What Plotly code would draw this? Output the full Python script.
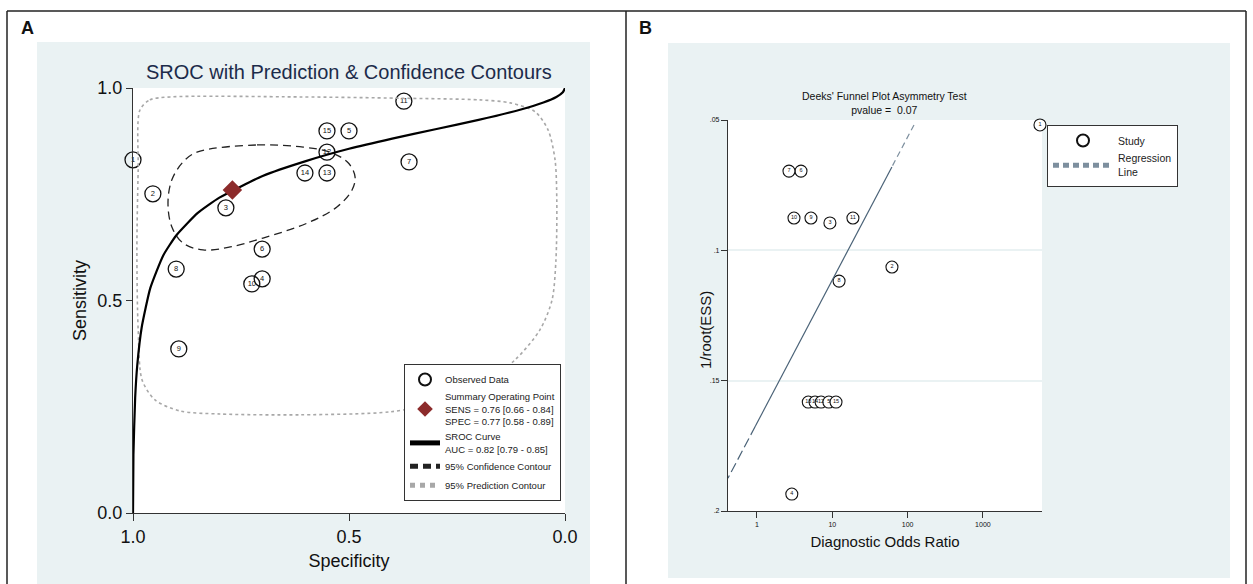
import numpy as np
import plotly.graph_objects as go

W, H = 1253, 584
FONT = "Liberation Sans, Arial, Helvetica, sans-serif"

# ---------------- Panel A data (SROC) ----------------
study_ids = list(range(1, 16))
spec_obs = [1.00, 0.954, 0.785, 0.701, 0.500, 0.701, 0.361, 0.900, 0.894, 0.725, 0.373, 0.551, 0.551, 0.602, 0.551]
sens_obs = [0.831, 0.751, 0.718, 0.551, 0.899, 0.621, 0.826, 0.574, 0.386, 0.539, 0.969, 0.849, 0.800, 0.800, 0.899]
summary_spec = [0.77]
summary_sens = [0.76]

sroc_spec = [1.0, 0.999, 0.995, 0.99, 0.98, 0.96, 0.93, 0.90, 0.85, 0.80, 0.70, 0.60,
             0.50, 0.40, 0.30, 0.20, 0.10, 0.05, 0.02, 0.005, 0.0]
sroc_sens = [0.0, 0.137, 0.271, 0.349, 0.436, 0.529, 0.606, 0.653, 0.706, 0.742, 0.793, 0.828,
             0.857, 0.881, 0.903, 0.925, 0.950, 0.966, 0.979, 0.990, 1.0]

conf_spec = [0.852, 0.713, 0.606, 0.544, 0.502, 0.486, 0.493, 0.528, 0.597, 0.699, 0.775,
             0.838, 0.884, 0.910, 0.919, 0.910, 0.884, 0.852]
conf_sens = [0.849, 0.866, 0.861, 0.849, 0.824, 0.791, 0.760, 0.720, 0.682, 0.647, 0.626,
             0.619, 0.635, 0.673, 0.729, 0.784, 0.826, 0.849]

pred_spec = [0.984, 0.961, 0.914, 0.613, 0.382, 0.197, 0.127, 0.069, 0.039, 0.023, 0.019, 0.021,
             0.030, 0.058, 0.116, 0.197, 0.289, 0.405, 0.613, 0.799, 0.891, 0.949, 0.979, 0.988,
             0.991, 0.988, 0.984]
pred_sens = [0.948, 0.972, 0.979, 0.979, 0.976, 0.972, 0.965, 0.944, 0.901, 0.831, 0.736, 0.595,
             0.501, 0.431, 0.360, 0.301, 0.261, 0.238, 0.231, 0.233, 0.240, 0.266, 0.313, 0.431,
             0.619, 0.807, 0.948]

# ---------------- Panel B data (Deeks) ----------------
deeks_ids = [1, 2, 3, 4, 6, 7, 8, 9, 10, 11, 13, 14, 12, 5, 15]
deeks_dor = [5730, 62, 9.3, 2.9, 3.84, 2.66, 12.3, 5.21, 3.10, 18.8, 4.8, 5.9, 7.1, 9.0, 11.2]
deeks_inv_ess = [0.0519, 0.1064, 0.0895, 0.1935, 0.0696, 0.0696, 0.1118, 0.0876, 0.0876, 0.0876,
                 0.1582, 0.1582, 0.1582, 0.1582, 0.1582]
reg_intercept = 3.031   # log10(DOR) at 1/root(ESS) = 0
reg_slope = -18.23
reg_y_top = [0.0519, 0.068]
reg_y_mid = [0.068, 0.1674]
reg_y_low = [0.1674, 0.1874]


def px(x):
    return x / W


def py(y):
    return 1 - y / H


def reg_x(ys):
    return [10 ** (reg_intercept + reg_slope * v) for v in ys]


fig = go.Figure()

# ---- Panel A traces ----
fig.add_trace(go.Scatter(
    x=spec_obs, y=sens_obs, mode="markers+text", text=[str(i) for i in study_ids],
    textposition="middle center", textfont=dict(size=7.5, color="#111", family=FONT),
    marker=dict(symbol="circle-open", size=16, color="#111", line=dict(width=1.3, color="#111")),
    name="Observed Data", xaxis="x", yaxis="y", cliponaxis=False, legend="legend", legendrank=1))
fig.add_trace(go.Scatter(
    x=pred_spec, y=pred_sens, mode="lines", line=dict(color="#a8a8a8", width=1.6, dash="dot", shape="spline", smoothing=0.8),
    name="95% Prediction Contour", xaxis="x", yaxis="y", cliponaxis=False, legend="legend", legendrank=5))
fig.add_trace(go.Scatter(
    x=conf_spec, y=conf_sens, mode="lines", line=dict(color="#222", width=1.3, dash="8px,5px", shape="spline", smoothing=1.0),
    name="95% Confidence Contour", xaxis="x", yaxis="y", legend="legend", legendrank=4))
fig.add_trace(go.Scatter(
    x=sroc_spec, y=sroc_sens, mode="lines", line=dict(color="#000", width=2.2, shape="spline", smoothing=0.5),
    name="SROC Curve<br>AUC = 0.82 [0.79 - 0.85]", xaxis="x", yaxis="y", cliponaxis=False,
    legend="legend", legendrank=3))
fig.add_trace(go.Scatter(
    x=summary_spec, y=summary_sens, mode="markers",
    marker=dict(symbol="diamond", size=15, color="#8c2b2b"),
    name="Summary Operating Point<br>SENS = 0.76 [0.66 - 0.84]<br>SPEC = 0.77 [0.58 - 0.89]",
    xaxis="x", yaxis="y", legend="legend", legendrank=2))

# ---- Panel B traces ----
fig.add_trace(go.Scatter(
    x=deeks_dor, y=deeks_inv_ess, mode="markers+text", text=[str(i) for i in deeks_ids],
    textposition="middle center", textfont=dict(size=5.5, color="#111", family=FONT),
    marker=dict(symbol="circle", size=12, color="white", line=dict(width=1.1, color="#111")),
    name="Study", xaxis="x2", yaxis="y2", cliponaxis=False, legend="legend2", legendrank=1))
fig.add_trace(go.Scatter(
    x=reg_x(reg_y_top), y=reg_y_top, mode="lines", line=dict(color="#7d8f9e", width=1.2, dash="6px,4px"),
    name="Regression<br>Line", xaxis="x2", yaxis="y2", legend="legend2", legendrank=2))
fig.add_trace(go.Scatter(
    x=reg_x(reg_y_mid), y=reg_y_mid, mode="lines", line=dict(color="#4a6277", width=1.2),
    showlegend=False, xaxis="x2", yaxis="y2"))
fig.add_trace(go.Scatter(
    x=reg_x(reg_y_low), y=reg_y_low, mode="lines", line=dict(color="#4a6277", width=1.2, dash="10px,4px"),
    showlegend=False, xaxis="x2", yaxis="y2"))

BG = "#eaf2f3"
shapes = [
    # panel backgrounds
    dict(type="rect", xref="paper", yref="paper", x0=px(37), x1=px(590), y0=py(584), y1=py(42),
         fillcolor=BG, line=dict(width=0), layer="below"),
    dict(type="rect", xref="paper", yref="paper", x0=px(668), x1=px(1230), y0=py(578), y1=py(43),
         fillcolor=BG, line=dict(width=0), layer="below"),
    # white plot regions
    dict(type="rect", xref="x domain", yref="y domain", x0=0, x1=1, y0=0, y1=1,
         fillcolor="white", line=dict(width=0), layer="below"),
    dict(type="rect", xref="x2 domain", yref="y2 domain", x0=0, x1=1, y0=0, y1=1,
         fillcolor="white", line=dict(width=0), layer="below"),
    # outer frame
    dict(type="line", xref="paper", yref="paper", x0=px(7), x1=px(1246), y0=py(11), y1=py(11),
         line=dict(color="#222", width=1.5)),
    dict(type="line", xref="paper", yref="paper", x0=px(7), x1=px(7), y0=py(11), y1=0,
         line=dict(color="#222", width=1.5)),
    dict(type="line", xref="paper", yref="paper", x0=px(1246), x1=px(1246), y0=py(11), y1=0,
         line=dict(color="#222", width=1.5)),
    dict(type="line", xref="paper", yref="paper", x0=px(626), x1=px(626), y0=py(11), y1=0,
         line=dict(color="#222", width=1.5)),
]

ann_common = dict(xref="paper", yref="paper", showarrow=False, xanchor="center", yanchor="middle")
annotations = [
    dict(text="<b>A</b>", x=px(27), y=py(28), font=dict(size=18, color="#111", family=FONT), **ann_common),
    dict(text="<b>B</b>", x=px(645), y=py(28), font=dict(size=18, color="#111", family=FONT), **ann_common),
    dict(text="SROC with Prediction & Confidence Contours", x=px(349), y=py(72),
         font=dict(size=20, color="#1c2b4a", family=FONT), **ann_common),
    dict(text="Deeks' Funnel Plot Asymmetry Test<br>pvalue =  0.07", x=px(885), y=py(103),
         font=dict(size=10.5, color="#111", family=FONT), **ann_common),
    dict(text="1/root(ESS)", x=px(705), y=py(330), textangle=-90,
         font=dict(size=15, color="#111", family=FONT), **ann_common),
]

axis_common = dict(showgrid=False, zeroline=False, showline=True, linecolor="#333", linewidth=1.2,
                   ticks="outside", tickcolor="#333", automargin=False)

fig.update_layout(
    width=W, height=H, margin=dict(l=0, r=0, t=0, b=0),
    paper_bgcolor="white", plot_bgcolor="white",
    font=dict(family=FONT, color="#111"),
    shapes=shapes, annotations=annotations,
    xaxis=dict(domain=[px(133), px(565)], range=[1, 0], anchor="y",
               tickvals=[1, 0.5, 0], ticktext=["1.0", "0.5", "0.0"], ticklen=7,
               tickfont=dict(size=18, color="#111"),
               title=dict(text="Specificity", font=dict(size=18, color="#111"), standoff=8),
               **axis_common),
    yaxis=dict(domain=[py(513), py(88)], range=[0, 1], anchor="x",
               tickvals=[0, 0.5, 1], ticktext=["0.0", "0.5", "1.0"], ticklen=6,
               tickfont=dict(size=18, color="#111"),
               title=dict(text="Sensitivity", font=dict(size=18, color="#111"), standoff=5),
               **axis_common),
    xaxis2=dict(domain=[px(728), px(1042)], type="log", range=[-0.385, 3.785], anchor="y2",
                tickvals=[1, 10, 100, 1000], ticktext=["1", "10", "100", "1000"], ticklen=6,
                tickfont=dict(size=7, color="#111"),
                title=dict(text="Diagnostic Odds Ratio", font=dict(size=15, color="#111"), standoff=9),
                **axis_common),
    yaxis2=dict(domain=[py(511), py(120)], range=[0.2, 0.05], anchor="x2",
                tickvals=[0.05, 0.1, 0.15, 0.2], ticktext=[".05", ".1", ".15", ".2"], ticklen=6,
                tickfont=dict(size=7, color="#111"),
                showgrid=True, gridcolor=BG, gridwidth=1.5, zeroline=False, showline=True,
                linecolor="#333", linewidth=1.2, ticks="outside", tickcolor="#333", automargin=False),
    legend=dict(x=px(404), y=py(364), xanchor="left", yanchor="top", bgcolor="white",
                bordercolor="#333", borderwidth=1, font=dict(size=9.5, color="#222", family=FONT),
                traceorder="normal", itemsizing="constant", valign="middle"),
    legend2=dict(x=px(1047), y=py(125), xanchor="left", yanchor="top", bgcolor="white",
                 bordercolor="#333", borderwidth=1, font=dict(size=10.5, color="#222", family=FONT),
                 traceorder="normal", itemsizing="constant", valign="middle", itemwidth=60),
    showlegend=True,
)

fig.write_html("out.html", config={"displayModeBar": False},
               post_script="document.body.style.margin='0px';document.body.style.overflow='hidden';")
